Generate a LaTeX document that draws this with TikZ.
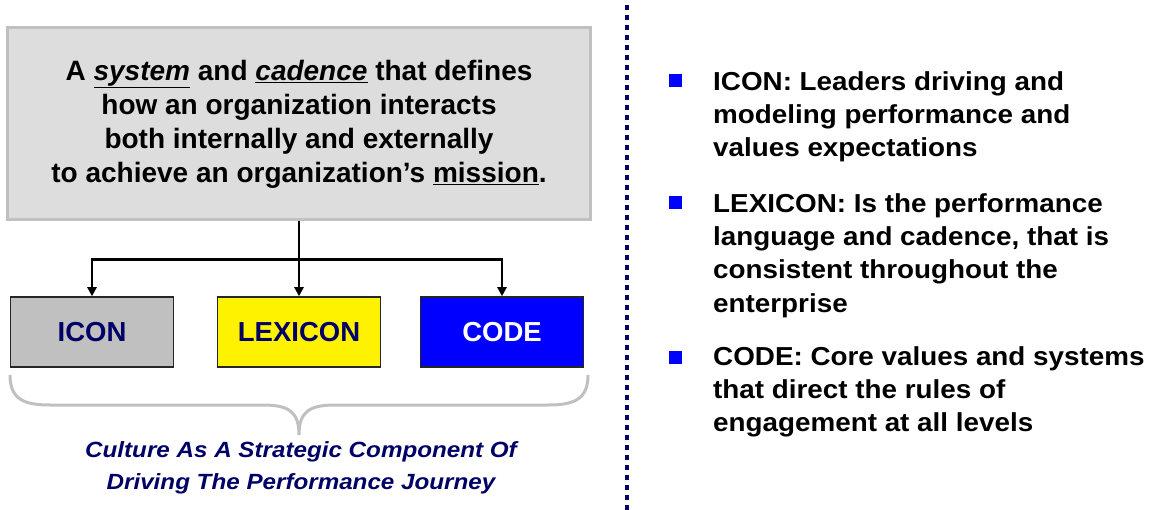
\documentclass[tikz,border=0pt]{standalone}
\usepackage{fontspec}
\setmainfont{Liberation Sans}
\newfontfamily\widesans[FakeStretch=1.07]{Liberation Sans}
\newfontfamily\widersans[FakeStretch=1.1]{Liberation Sans}
\usetikzlibrary{arrows.meta}
\definecolor{navy}{RGB}{0,0,102}
\definecolor{lightgrey}{RGB}{221,221,221}
\definecolor{midgrey}{RGB}{192,192,192}
\begin{document}
\begin{tikzpicture}[x=1pt,y=-1pt,
    box/.style={draw=black!85, line width=1.5pt, minimum width=163pt, minimum height=70pt,
                inner sep=0pt, font=\bfseries\fontsize{27.5}{30}\selectfont},
    link/.style={line width=2.5pt, -{Triangle[width=9pt,length=9pt]}},
    bullet/.style={fill=blue, minimum size=13pt, inner sep=0pt},
    item/.style={anchor=north west, align=left, inner sep=0pt,
                 font=\widesans\bfseries\fontsize{26}{33.4}\selectfont}]
    \useasboundingbox (0,0) rectangle (1153,510);
    % top statement
    \node [draw=midgrey, fill=lightgrey, line width=3pt, minimum width=583pt, minimum height=192pt,
           align=center, font=\bfseries\fontsize{28}{34}\selectfont] (mission) at (299,124)
        {A \underline{\itshape system} and \underline{\itshape cadence} that defines\\
         how an organization interacts\\
         both internally and externally\\
         to achieve an organization’s \underline{mission}.};
    % three parts
    \node [box, fill=midgrey, text=navy] (icon) at (92,332) {ICON};
    \node [box, fill=yellow, text=navy] (lexicon) at (299,332) {LEXICON};
    \node [box, fill=blue, text=white] (code) at (502,332) {CODE};
    \coordinate (split) at ([yshift=-38pt]mission.south);
    \draw [line width=2.5pt] (mission.south) -- (split);
    \draw [link] (split) -| (icon.north);
    \draw [link] (split) -- (lexicon.north);
    \draw [link] (split) -| (code.north);
    % brace
    \draw [midgrey, line width=3pt] (10,375) .. controls (10,400) and (25,405) .. (50,405)
        -- (263,405) .. controls (289,405) and (299,412) .. (299,435)
        .. controls (299,412) and (309,405) .. (335,405) -- (548,405)
        .. controls (573,405) and (588,400) .. (588,375);
    \node [align=center, text=navy, inner sep=0pt, font=\widersans\bfseries\itshape\fontsize{22}{32}\selectfont,
           anchor=north] (caption) at (301,441)
        {Culture As A Strategic Component Of\\Driving The Performance Journey};
    % divider
    \draw [navy, line width=4.5pt, dash pattern=on 5pt off 5pt] (627,5) -- (627,510);
    % bullets
    \node [bullet] (b1) at (675,81) {};
    \node [bullet] (b2) at (675,203) {};
    \node [bullet] (b3) at (675,357) {};
    \node [item] (t1) at (713,71) {ICON: Leaders driving and\\modeling performance and\\values expectations};
    \node [item] (t2) at (713,193) {LEXICON: Is the performance\\language and cadence, that is\\consistent throughout the\\enterprise};
    \node [item] (t3) at (713,346) {CODE: Core values and systems\\that direct the rules of\\engagement at all levels};
\end{tikzpicture}
\end{document}
